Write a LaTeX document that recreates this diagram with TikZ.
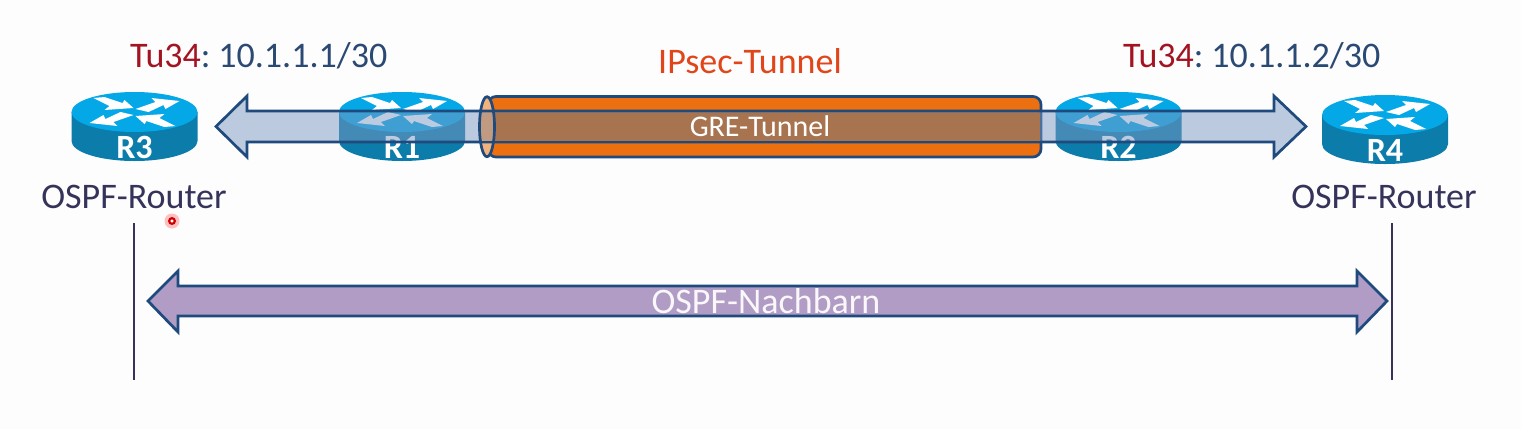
\documentclass[tikz,border=0pt]{standalone}
\usepackage{fontspec}
\setmainfont{Carlito}
\definecolor{bgc}{HTML}{FDFDFE}
\definecolor{rtop}{HTML}{05A8E6}
\definecolor{rside}{HTML}{0C7CAB}
\definecolor{lineblue}{HTML}{1F4A7D}
\definecolor{arrfill}{HTML}{7A98C2}
\definecolor{orangec}{HTML}{EC700F}
\definecolor{capc}{HTML}{F2B27E}
\definecolor{capover}{HTML}{C09B82}
\definecolor{brownc}{HTML}{A8734F}
\definecolor{lilac}{HTML}{B09CC4}
\definecolor{redt}{HTML}{A31422}
\definecolor{bluet}{HTML}{2B4A73}
\definecolor{darkt}{HTML}{35335A}
\definecolor{orangetxt}{HTML}{E0461A}
\tikzset{
  lbl/.style={font=\fontsize{36}{40}\selectfont, inner sep=0pt, text=darkt},
  rlabel/.style={font=\bfseries\fontsize{34}{36}\selectfont, text=white, inner sep=0pt},
  vline/.style={draw=darkt, line width=2.5pt},
  heavy/.style={draw=lineblue, line width=2.7pt, line join=miter},
}
% router: #1 cx, #2 cy of the top ellipse, #3 name, #4 label
\newcommand{\myrouter}[4]{
  \begin{scope}[shift={(#1,#2)}]
    \fill[rside] (-63,0) -- (-63,29) arc[start angle=180,end angle=0,x radius=63,y radius=20] -- (63,0) -- cycle;
    \fill[rtop] (0,0) ellipse[x radius=63,y radius=20];
    \fill[white] (-41,-14) -- (-30,-15) -- (-12,-9) -- (-10,-12) -- (-1,-4) -- (-30,-2) -- (-25,-6) -- cycle;
    \fill[white] (1,-3) -- (21,-10) -- (17,-14) -- (45,-11) -- (31,-3) -- (29,-7) -- (14,0) -- cycle;
    \fill[white] (-1,3) -- (-21,10) -- (-17,14) -- (-45,11) -- (-31,3) -- (-29,7) -- (-14,0) -- cycle;
    \fill[white] (41,14) -- (30,15) -- (12,9) -- (10,12) -- (1,4) -- (30,2) -- (25,6) -- cycle;
    \node[rlabel] (#3) at (0,35.5) {#4};
  \end{scope}
}
\begin{document}
\begin{tikzpicture}[x=1pt,y=-1pt]
\useasboundingbox[fill=bgc] (0,0) rectangle (1521,429);
\myrouter{134.5}{112}{rthree}{R3}
\myrouter{402}{112}{rone}{R1}
\myrouter{1118.5}{112}{rtwo}{R2}
\myrouter{1385}{115}{rfour}{R4}
% tunnel
\draw[fill=orangec,heavy,rounded corners=8pt] (488,96.5) -- (1041,96.5) -- (1041,157) -- (488,157) -- cycle;
\fill[capc] (487,126.7) ellipse[x radius=7.5,y radius=30];
% blue double arrow
\draw[fill=arrfill,fill opacity=.5,heavy]
  (216,126.5) -- (247,96) -- (247,111) -- (1274,111) -- (1274,96) -- (1306,126.5) -- (1274,157) -- (1274,142) -- (247,142) -- (247,157) -- cycle;
\fill[brownc] (495,112.5) rectangle (1039.5,140.5);
\begin{scope}
  \clip (487,126.7) ellipse[x radius=7.5,y radius=30];
  \fill[capover] (479,112.5) rectangle (496,140.5);
\end{scope}
\draw[heavy] (487,126.7) ellipse[x radius=7.5,y radius=30];
\node[inner sep=0pt,text=white,font=\fontsize{30}{34}\selectfont] (gre) at (760,126.5) {GRE-Tunnel};
% labels
\node[lbl,text=orangetxt] (ipsec) at (750,61) {IPsec-Tunnel};
\node[lbl,anchor=west] (tua) at (130,56) {\textcolor{redt}{Tu34}\textcolor{bluet}{:\hspace{-3pt} 10.1.1.1/30}};
\node[lbl,anchor=west] (tub) at (1123,56) {\textcolor{redt}{Tu34}\textcolor{bluet}{:\hspace{-3pt} 10.1.1.2/30}};
\node[lbl] (ospfa) at (134,197) {OSPF-Router};
\node[lbl] (ospfb) at (1384,197) {OSPF-Router};
% bottom
\coordinate (la) at (134,223); \coordinate (lb) at (134,380);
\coordinate (ra) at (1392,223); \coordinate (rb) at (1392,380);
\draw[vline] (la) -- (lb);
\draw[vline] (ra) -- (rb);
\draw[fill=lilac,heavy]
  (148,301) -- (178,271) -- (178,286) -- (1357,286) -- (1357,271) -- (1387,301) -- (1357,332) -- (1357,316) -- (178,316) -- (178,332) -- cycle;
\node[lbl,text=white!92!lilac] (nach) at (766,301) {OSPF-Nachbarn};
% pointer dot
\fill[red!25] (172,221) circle[radius=7.5];
\draw[draw=red!80!black,fill=white,line width=2.2pt] (172,221) circle[radius=2.8];
\end{tikzpicture}
\end{document}
